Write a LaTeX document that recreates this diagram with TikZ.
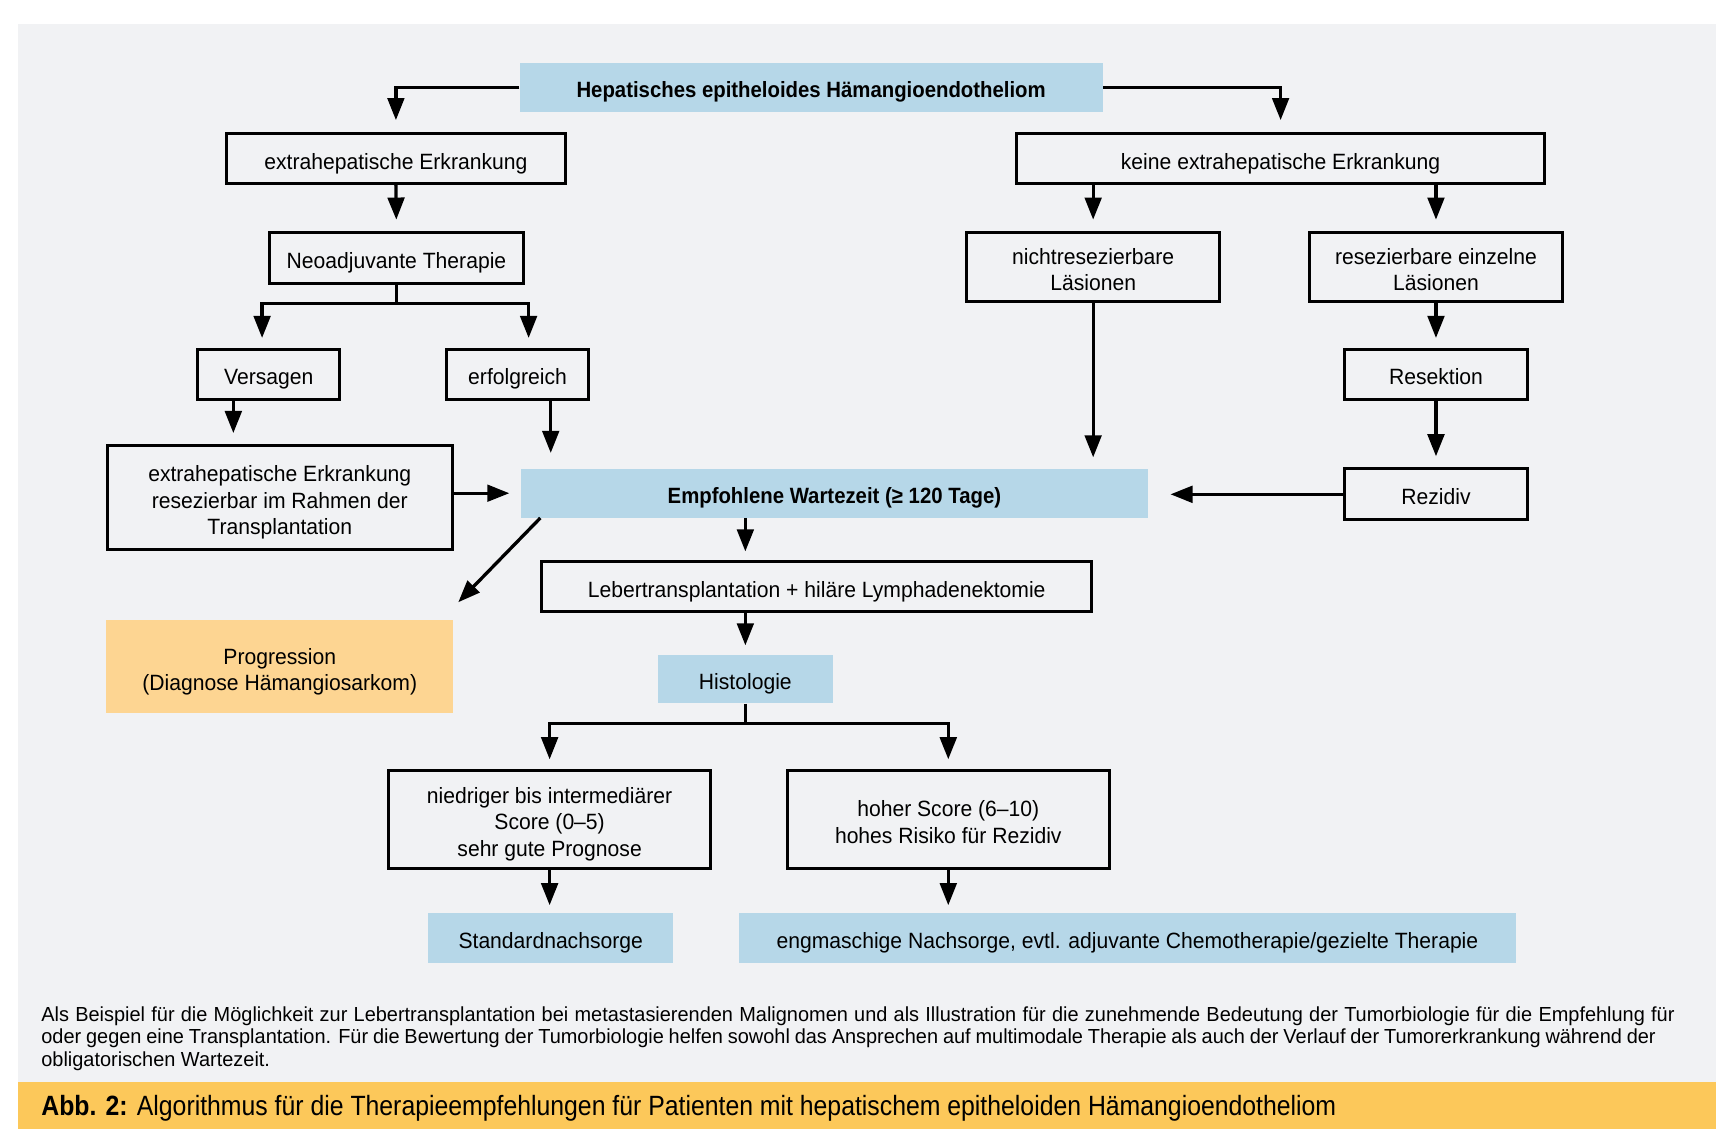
\documentclass[tikz,border=0pt]{standalone}
\usepackage{fontspec}
\setmainfont{Liberation Sans}[FakeStretch=0.955]
\newfontfamily\hbold{Liberation Sans}[FakeStretch=0.92]
\newfontfamily\footfont{Liberation Sans}[FakeStretch=0.98]
\newfontfamily\capfont{Liberation Sans}[FakeStretch=0.89]
\usetikzlibrary{arrows.meta,calc}
\definecolor{panel}{RGB}{241,242,244}
\definecolor{boxblue}{RGB}{182,215,232}
\definecolor{progorange}{RGB}{253,213,146}
\definecolor{capbar}{RGB}{252,200,90}
\newcommand\hs{\rule{0pt}{11.6pt}}
\newcommand\ds{\rule[-2.1pt]{0pt}{2.1pt}}
\begin{document}
\begin{tikzpicture}[x=0.5pt,y=-0.5pt,
  txt/.style={font=\fontsize{10}{12}\selectfont, align=center, inner sep=0pt},
  frame/.style={txt, draw=black, line width=1.35pt},
  bluebox/.style={txt, fill=boxblue},
  boldtxt/.style={font=\fontsize{10}{12}\selectfont\hbold\bfseries},
  arr/.style={line width=1.5pt, -{Triangle[length=10pt,width=7.5pt]}},
  footline/.style={anchor=base west, inner sep=0pt, font=\fontsize{9.2}{11}\selectfont\footfont},
  ]
\useasboundingbox (0,0) rectangle (1568,1036);
\fill[white] (0,0) rectangle (1568,1036);
\fill[panel] (16,22) rectangle (1552,978);
\fill[capbar] (16,978) rectangle (1552,1021);

% nodes
\node[bluebox, boldtxt, minimum width=263.5pt, minimum height=22pt] (top) at (733.5,79) {\hs Hepatisches epitheloides Hämangioendotheliom\ds};
\node[frame, minimum width=153pt, minimum height=22.5pt] (ext1) at (358,143.5) {\hs extrahepatische Erkrankung\ds};
\node[frame, minimum width=239pt, minimum height=22.5pt] (keine) at (1158,143.5) {\hs keine extrahepatische Erkrankung\ds};
\node[frame, minimum width=114.5pt, minimum height=23pt] (neo) at (358.5,233) {\hs Neoadjuvante Therapie\ds};
\node[frame, minimum width=114.5pt, minimum height=31.5pt] (nicht) at (988.5,241.5) {\hs nichtresezierbare\\Läsionen\ds};
\node[frame, minimum width=114.5pt, minimum height=31.5pt] (resez) at (1298.5,241.5) {\hs resezierbare einzelne\\Läsionen\ds};
\node[frame, minimum width=64pt, minimum height=22.5pt] (vers) at (243,338.5) {\hs Versagen\ds};
\node[frame, minimum width=64pt, minimum height=22.5pt] (erf) at (468,338.5) {\hs erfolgreich\ds};
\node[frame, minimum width=82.5pt, minimum height=22.5pt] (resekt) at (1298.5,338.5) {\hs Resektion\ds};
\node[frame, minimum width=156pt, minimum height=47pt] (ext2) at (253,450) {\hs extrahepatische Erkrankung\\resezierbar im Rahmen der\\Transplantation\ds};
\node[bluebox, boldtxt, minimum width=283.5pt, minimum height=22pt] (wait) at (754.5,446) {\hs Empfohlene Wartezeit (≥ 120 Tage)\ds};
\node[frame, minimum width=82.5pt, minimum height=23pt] (rez) at (1298.5,447) {\hs Rezidiv\ds};
\node[frame, minimum width=248.5pt, minimum height=22.5pt] (leber) at (738.5,530.5) {\hs Lebertransplantation + hiläre Lymphadenektomie\ds};
\node[txt, fill=progorange, minimum width=157pt, minimum height=42pt] (prog) at (253,603) {\hs Progression\\(Diagnose Hämangiosarkom)\ds};
\node[bluebox, minimum width=79pt, minimum height=22pt] (hist) at (674,614) {\hs Histologie\ds};
\node[frame, minimum width=145.5pt, minimum height=44pt] (low) at (497,741) {\hs niedriger bis intermediärer\\Score (0–5)\\sehr gute Prognose\ds};
\node[frame, minimum width=145.5pt, minimum height=44pt] (high) at (857.5,741) {\hs hoher Score (6–10)\\hohes Risiko für Rezidiv\ds};
\node[bluebox, minimum width=111pt, minimum height=22.5pt] (std) at (498,848.5) {\hs Standardnachsorge\ds};
\node[bluebox, minimum width=351.5pt, minimum height=22.5pt] (eng) at (1019.5,848.5) {\hs engmaschige Nachsorge, evtl. adjuvante Chemotherapie/gezielte Therapie\ds};

% connectors
\draw[arr, shorten >=5.5pt] (top.west) -| (ext1.north);
\draw[arr, shorten >=5.5pt] (top.east) -| (keine.north);
\draw[arr, shorten >=5pt] (ext1.south) -- (neo.north);
\draw[arr, shorten >=4.5pt] (neo.south) -- ++(0,17) -| ($(vers.north)+(-6,0)$);
\draw[arr, shorten >=4.5pt] (neo.south) -- ++(0,17) -| ($(erf.north)+(10,0)$);
\draw[arr, shorten >=5pt] (keine.south -| nicht.north) -- (nicht.north);
\draw[arr, shorten >=5pt] (keine.south -| resez.north) -- (resez.north);
\draw[arr, shorten >=5pt] (nicht.south) -- (nicht.south |- wait.north);
\draw[arr, shorten >=4.5pt] (resez.south) -- (resekt.north);
\draw[arr, shorten >=5pt] (resekt.south) -- (rez.north);
\draw[arr, shorten >=10pt] (rez.west) -- (rez.west -| wait.east);
\coordinate (versout) at ($(vers.south)+(-32,0)$);
\draw[arr, shorten >=5pt] (versout) -- (versout |- ext2.north);
\coordinate (erfout) at ($(erf.south)+(30,0)$);
\draw[arr, shorten >=7pt] (erfout) -- (erfout |- wait.north);
\draw[arr, shorten >=5pt] (ext2.east |- wait.west) -- (wait.west);
\draw[arr] ($(wait.south west)+(18,0)$) -- ($(prog.north east)+(4,-16)$);
\draw[arr, shorten >=4pt] (hist.north |- wait.south) -- (hist.north |- leber.north);
\draw[arr, shorten >=4pt] (hist.north |- leber.south) -- (hist.north);
\draw[arr, shorten >=4.5pt] (hist.south) -- ++(0,18) -| (low.north);
\draw[arr, shorten >=4.5pt] (hist.south) -- ++(0,18) -| (high.north);
\draw[arr, shorten >=3.5pt] (low.south) -- (low.south |- std.north);
\draw[arr, shorten >=3.5pt] (high.south) -- (high.south |- eng.north);

% footnote and caption
\node[footline] (foot1) at (37,924) {\makebox[738.5pt][s]{Als Beispiel für die Möglichkeit zur Lebertransplantation bei metastasierenden Malignomen und als Illustration für die zunehmende Bedeutung der Tumorbiologie für die Empfehlung für}};
\node[footline] (foot2) at (37,944) {\makebox[730pt][s]{oder gegen eine Transplantation. Für die Bewertung der Tumorbiologie helfen sowohl das Ansprechen auf multimodale Therapie als auch der Verlauf der Tumorerkrankung während der}};
\node[footline] (foot3) at (37,964) {obligatorischen Wartezeit.};
\node[anchor=base west, inner sep=0pt, font=\fontsize{12.6}{15}\selectfont\capfont] (cap) at (37,1009) {\textbf{Abb. 2:} Algorithmus für die Therapieempfehlungen für Patienten mit hepatischem epitheloiden Hämangioendotheliom};
\end{tikzpicture}
\end{document}
